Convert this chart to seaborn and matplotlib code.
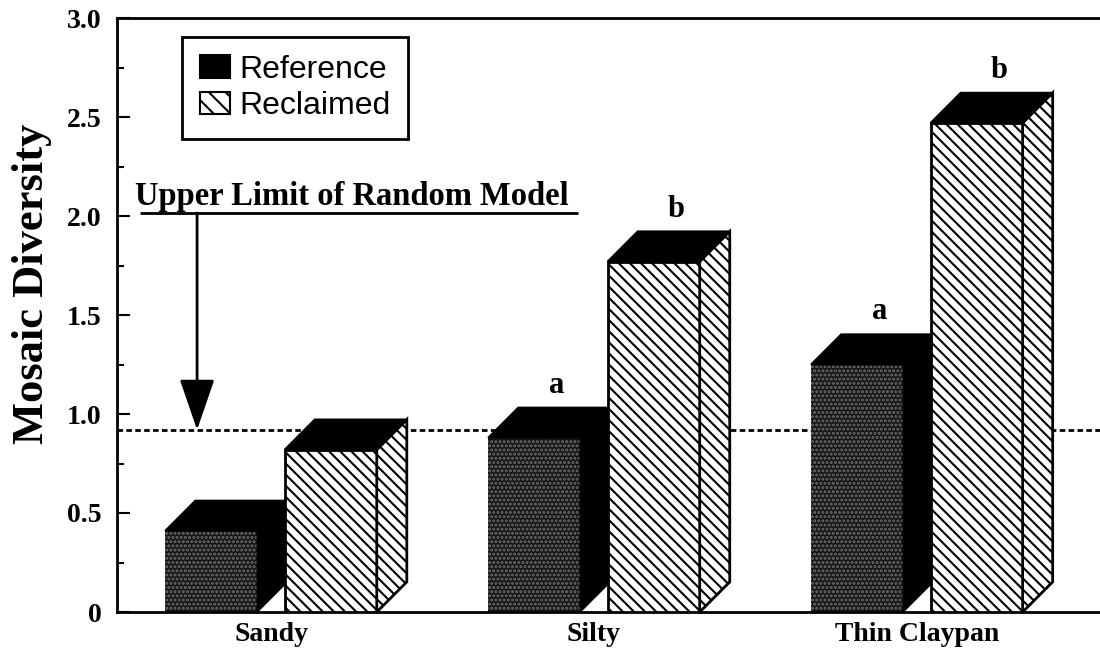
import numpy as np
import pandas as pd
import matplotlib
matplotlib.use('Agg')
import matplotlib.pyplot as plt
import seaborn as sns
from matplotlib.patches import Polygon, Patch
from matplotlib.ticker import MultipleLocator

# values
soils = ['Sandy', 'Silty', 'Thin Claypan']
sites = ['Reference', 'Reclaimed']
reference = [0.41, 0.88, 1.25]
reclaimed = [0.82, 1.77, 2.47]
letters_ref = ['', 'a', 'a']
letters_rec = ['', 'b', 'b']
random_limit = 0.92
yticks = [0, 0.5, 1.0, 1.5, 2.0, 2.5, 3.0]
ytick_labels = ['0', '0.5', '1.0', '1.5', '2.0', '2.5', '3.0']

df = pd.DataFrame({
    'soil': soils * 2,
    'site': ['Reference'] * 3 + ['Reclaimed'] * 3,
    'diversity': reference + reclaimed,
})

sns.set_theme(style='white')
plt.rcParams['hatch.linewidth'] = 1.5
for key in ['text.color', 'axes.labelcolor', 'xtick.color', 'ytick.color']:
    plt.rcParams[key] = 'black'
serif = ['Liberation Serif', 'DejaVu Serif']
sans = ['Liberation Sans', 'DejaVu Sans']

fig = plt.figure(figsize=(11, 6.57), dpi=100)
ax = fig.add_axes([117 / 1100, 45 / 657, 983 / 1100, 594 / 657])

sns.barplot(data=df, x='soil', y='diversity', hue='site', order=soils,
            hue_order=sites, palette=['#1c1c1c', 'white'], saturation=1,
            width=0.74, gap=0.23, errorbar=None, legend=False, ax=ax)

# fake 3D depth (data units)
DX, DY = 0.093, 0.152
HATCH = '\\\\\\'


def add_faces(bar, side_kw, z):
    x0, w, h = bar.get_x(), bar.get_width(), bar.get_height()
    x1 = x0 + w
    side = Polygon([(x1, 0), (x1 + DX, DY), (x1 + DX, h + DY), (x1, h)],
                   closed=True, zorder=z, **side_kw)
    top = Polygon([(x0, h), (x0 + DX, h + DY), (x1 + DX, h + DY), (x1, h)],
                  closed=True, facecolor='black', edgecolor='black', lw=1.5, zorder=z)
    ax.add_patch(side)
    ax.add_patch(top)


def add_letter(bar, lab):
    if lab:
        ax.text(bar.get_x() + bar.get_width() / 2 + DX * 0.75, bar.get_height() + DY + 0.04,
                lab, ha='center', va='bottom', fontsize=22, fontweight='bold',
                family=serif, color='black')


ref_bars, rec_bars = ax.containers[0], ax.containers[1]
for bar, lab in zip(ref_bars, letters_ref):
    bar.set_facecolor('#141414')
    bar.set_edgecolor('#6e6e6e')
    bar.set_hatch('....')
    bar.set_linewidth(0)
    bar.set_zorder(2)
    add_faces(bar, dict(facecolor='black', edgecolor='black', lw=1), 2.1)
    add_letter(bar, lab)

for bar, lab in zip(rec_bars, letters_rec):
    bar.set_facecolor('white')
    bar.set_edgecolor('black')
    bar.set_hatch(HATCH)
    bar.set_linewidth(2)
    bar.set_zorder(3)
    add_faces(bar, dict(facecolor='white', edgecolor='black', hatch=HATCH, lw=2), 3.1)
    add_letter(bar, lab)

# upper limit of random model
ax.axhline(random_limit, color='black', lw=2, linestyle=(0, (2, 1.2)), zorder=1)
ax.text(-0.421, 2.056, 'Upper Limit of Random Model', ha='left', va='baseline',
        fontsize=23.5, fontweight='bold', family=serif, color='black')
ax.plot([-0.406, 0.950], [2.015, 2.015], color='black', lw=2, solid_capstyle='butt')
ax.annotate('', xy=(-0.229, random_limit), xytext=(-0.229, 2.015),
            arrowprops=dict(arrowstyle='-|>,head_length=1.6,head_width=0.55',
                            mutation_scale=20, color='black', lw=2,
                            shrinkA=0, shrinkB=0))

ax.set_xlim(-0.477, 2.567)
ax.set_ylim(0, 3.0)
ax.set_yticks(yticks)
ax.set_yticklabels(ytick_labels)
ax.yaxis.set_minor_locator(MultipleLocator(0.25))
ax.tick_params(axis='y', which='major', direction='in', length=9, width=1.5,
               pad=11, left=True, color='black', labelcolor='black')
ax.tick_params(axis='y', which='minor', direction='in', length=5, width=1.5,
               left=True, color='black')
ax.tick_params(axis='x', length=0, pad=7, labelcolor='black')
for t in ax.get_yticklabels():
    t.set_fontsize(20)
    t.set_fontweight('bold')
    t.set_family(serif)
for t in ax.get_xticklabels():
    t.set_fontsize(20)
    t.set_fontweight('bold')
    t.set_family(serif)

ax.set_xlabel('')
ax.set_ylabel('Mosaic Diversity', fontsize=32, fontweight='bold', family=serif, color='black')
ax.yaxis.set_label_coords(-0.066, 0.553)

for side in ['left', 'bottom', 'top']:
    ax.spines[side].set_color('black')
    ax.spines[side].set_linewidth(2)
ax.spines['right'].set_visible(False)

handles = [Patch(facecolor='black', edgecolor='black', lw=1.5),
           Patch(facecolor='white', edgecolor='black', hatch='\\\\', lw=1.5)]
leg = ax.legend(handles, sites, loc='upper left',
                bbox_to_anchor=(182 / 1100, 1 - 37 / 657), bbox_transform=fig.transFigure,
                prop={'family': sans, 'size': 23},
                handlelength=0.95, handleheight=0.7, handletextpad=0.3,
                labelspacing=0.2, borderpad=0.55, borderaxespad=0,
                fancybox=False, framealpha=1)
leg.get_frame().set_edgecolor('black')
leg.get_frame().set_linewidth(2)
for t in leg.get_texts():
    t.set_color('black')

fig.savefig('out.png', dpi=100)
